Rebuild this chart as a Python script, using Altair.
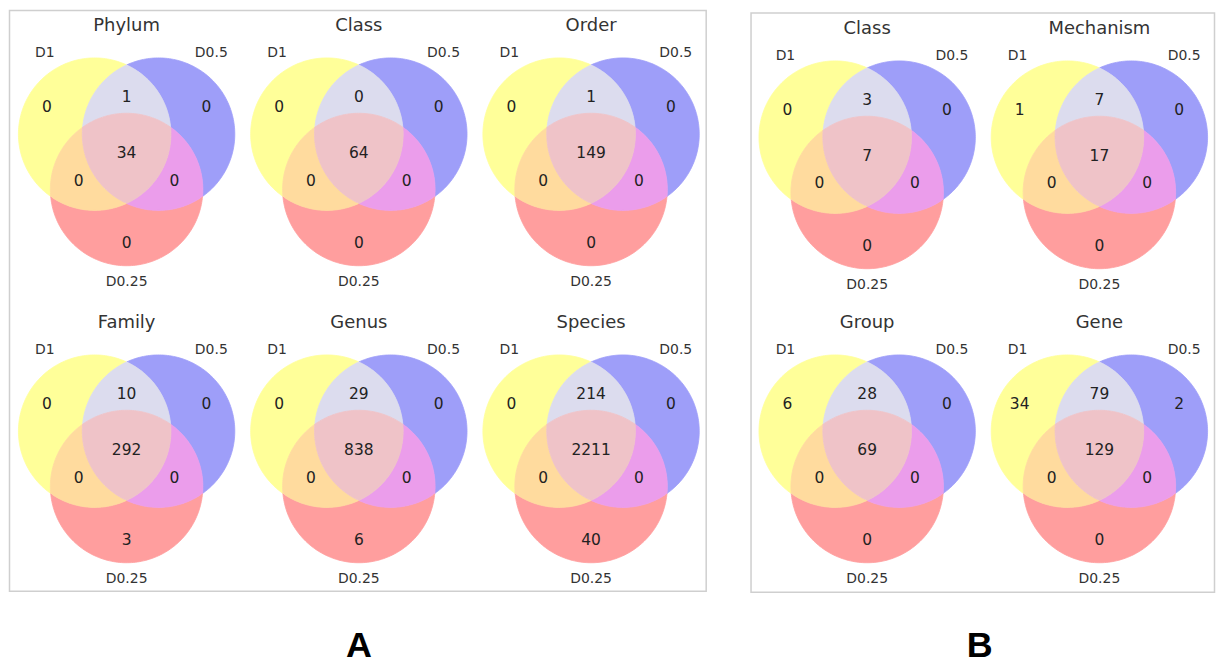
import math
import numpy as np
import pandas as pd
import altair as alt

# ---------------- data ----------------
panel_titles = ["Phylum", "Class", "Order", "Family", "Genus", "Species",
                "Class", "Mechanism", "Group", "Gene"]
set_labels = ["D1", "D0.5", "D0.25"]
group_letters = ["A", "B"]
# region counts, one entry per panel
only_d1 = [0, 0, 0, 0, 0, 0, 0, 1, 6, 34]
only_d05 = [0, 0, 0, 0, 0, 0, 0, 0, 0, 2]
only_d025 = [0, 0, 0, 3, 6, 40, 0, 0, 0, 0]
d1_d05 = [1, 0, 1, 10, 29, 214, 3, 7, 28, 79]
d1_d025 = [0, 0, 0, 0, 0, 0, 0, 0, 0, 0]
d05_d025 = [0, 0, 0, 0, 0, 0, 0, 0, 0, 0]
all_three = [34, 64, 149, 292, 838, 2211, 7, 17, 69, 129]

# ---------------- layout (page pixels) ----------------
col_x_a = [127, 360, 593]
col_x_b = [870, 1103]
row_y_a = [152, 450]
row_y_b = [155, 450]
centers = [(cx, cy) for cy in row_y_a for cx in col_x_a] + \
          [(cx, cy) for cy in row_y_b for cx in col_x_b]

RAD = 76.5
OFF = 37.0
circ = {
    "Y": np.array([OFF * math.cos(math.radians(150)), OFF * math.sin(math.radians(150))]),
    "B": np.array([OFF * math.cos(math.radians(30)), OFF * math.sin(math.radians(30))]),
    "R": np.array([OFF * math.cos(math.radians(270)), OFF * math.sin(math.radians(270))]),
}


def inside(p, k):
    return float(np.sum((p - circ[k]) ** 2)) < RAD ** 2


def pair_points(i, j, third):
    c1, c2 = circ[i], circ[j]
    d = float(np.linalg.norm(c2 - c1))
    h = math.sqrt(RAD ** 2 - (d / 2) ** 2)
    m = (c1 + c2) / 2
    u = (c2 - c1) / d
    perp = np.array([-u[1], u[0]])
    p1, p2 = m + h * perp, m - h * perp
    if inside(p1, third):
        return p1, p2
    return p2, p1


pts = {}
for (i, j, t) in [("Y", "B", "R"), ("Y", "R", "B"), ("B", "R", "Y")]:
    pin, pout = pair_points(i, j, t)
    pts[i + j + "_in"] = pin
    pts[i + j + "_out"] = pout

regions = {
    "Y": ({"Y": True, "B": False, "R": False}, [("YB_out", "Y"), ("YR_out", "R"), ("BR_in", "B")]),
    "B": ({"Y": False, "B": True, "R": False}, [("YB_out", "B"), ("BR_out", "R"), ("YR_in", "Y")]),
    "R": ({"Y": False, "B": False, "R": True}, [("YR_out", "R"), ("BR_out", "B"), ("YB_in", "Y")]),
    "YB": ({"Y": True, "B": True, "R": False}, [("YB_out", "B"), ("BR_in", "R"), ("YR_in", "Y")]),
    "YR": ({"Y": True, "B": False, "R": True}, [("YR_out", "R"), ("BR_in", "B"), ("YB_in", "Y")]),
    "BR": ({"Y": False, "B": True, "R": True}, [("BR_out", "R"), ("YR_in", "Y"), ("YB_in", "B")]),
    "YBR": ({"Y": True, "B": True, "R": True}, [("YB_in", "Y"), ("YR_in", "R"), ("BR_in", "B")]),
}


def arc(k, p, q, member):
    c = circ[k]
    a0 = math.atan2(p[1] - c[1], p[0] - c[0])
    a1 = math.atan2(q[1] - c[1], q[0] - c[0])
    ccw = (a1 - a0) % (2 * math.pi)
    chosen = ccw
    for sw in (ccw, ccw - 2 * math.pi):
        mid = a0 + sw / 2
        mp = c + RAD * np.array([math.cos(mid), math.sin(mid)])
        if all(inside(mp, o) == member[o] for o in "YBR" if o != k):
            chosen = sw
            break
    n = max(6, int(abs(chosen) / math.radians(1.5)))
    return [c + RAD * np.array([math.cos(a0 + chosen * t / n), math.sin(a0 + chosen * t / n)])
            for t in range(n)]


region_shapes = {}
for name, (member, cycle) in regions.items():
    poly = []
    for idx, (vname, k) in enumerate(cycle):
        nxt = cycle[(idx + 1) % len(cycle)][0]
        poly += arc(k, pts[vname], pts[nxt], member)
    region_shapes[name] = poly

rows = []
for pi, (cx, cy) in enumerate(centers):
    for name, poly in region_shapes.items():
        for i, p in enumerate(poly):
            rows.append({"key": f"{pi}-{name}", "region": name, "i": i,
                         "x": cx + p[0], "y": cy - p[1]})
poly_df = pd.DataFrame(rows)

region_names = ["Y", "B", "R", "YB", "YR", "BR", "YBR"]
region_colors = ["#ffff99", "#9e9ef9", "#ff9e9e", "#dcdcee", "#ffdb9e", "#eb9deb", "#efc3c8"]

# count labels
label_off = {"Y": (-80, -46), "B": (80, -46), "R": (0, 91), "YB": (0, -56),
             "YR": (-48, 28), "BR": (48, 28), "YBR": (0, 0)}
series = {"Y": only_d1, "B": only_d05, "R": only_d025, "YB": d1_d05,
          "YR": d1_d025, "BR": d05_d025, "YBR": all_three}
count_rows = []
for pi, (cx, cy) in enumerate(centers):
    for name in region_names:
        dx, dy = label_off[name]
        count_rows.append({"x": cx + dx, "y": cy + dy, "t": str(series[name][pi])})
count_df = pd.DataFrame(count_rows)

set_off = [(-82, -100), (85, -100), (0, 130)]
set_rows, title_rows = [], []
for pi, (cx, cy) in enumerate(centers):
    for s, (dx, dy) in zip(set_labels, set_off):
        set_rows.append({"x": cx + dx, "y": cy + dy, "t": s})
    title_rows.append({"x": cx, "y": cy - 127, "t": panel_titles[pi]})
set_df = pd.DataFrame(set_rows)
title_df = pd.DataFrame(title_rows)

box_df = pd.DataFrame({"x": [9.5, 753.5], "x2": [708.5, 1218.5],
                       "y": [9.5, 12.0], "y2": [592.0, 593.0]})
letter_df = pd.DataFrame({"x": [360, 983], "y": [658, 658], "t": group_letters})

# ---------------- chart ----------------
xs = alt.Scale(domain=[8, 1216], nice=False, zero=False)
ys = alt.Scale(domain=[8, 660], nice=False, zero=False, reverse=True)
X = alt.X("x:Q", scale=xs, axis=None)
Y = alt.Y("y:Q", scale=ys, axis=None)

boxes = alt.Chart(box_df).mark_rect(fill=None, stroke="#cfcfcf", strokeWidth=1.5).encode(
    x=X, x2="x2:Q", y=Y, y2="y2:Q")

shapes = alt.Chart(poly_df).mark_line(filled=True, strokeWidth=0.8).encode(
    x=X, y=Y,
    detail="key:N",
    order=alt.Order("i:Q"),
    fill=alt.Fill("region:N", scale=alt.Scale(domain=region_names, range=region_colors), legend=None),
    stroke=alt.Stroke("region:N", scale=alt.Scale(domain=region_names, range=region_colors), legend=None),
)

counts = alt.Chart(count_df).mark_text(font="DejaVu Sans", fontSize=15.5, color="#222222",
                                       baseline="middle", align="center").encode(x=X, y=Y, text="t:N")
setl = alt.Chart(set_df).mark_text(font="DejaVu Sans", fontSize=14, color="#333333",
                                   baseline="middle", align="center").encode(x=X, y=Y, text="t:N")
titles = alt.Chart(title_df).mark_text(font="DejaVu Sans", fontSize=18, color="#333333",
                                       baseline="middle", align="center").encode(x=X, y=Y, text="t:N")
letters = alt.Chart(letter_df).mark_text(font="Liberation Sans", fontSize=36, fontWeight="bold",
                                         color="#000000", baseline="alphabetic",
                                         align="center").encode(x=X, y=Y, text="t:N")

chart = alt.layer(boxes, shapes, counts, setl, titles, letters).properties(
    width=1208, height=652, padding=0
).configure(background="white", view=alt.ViewConfig(stroke=None))

chart.save("out.html", embed_options={"renderer": "svg", "actions": False})
